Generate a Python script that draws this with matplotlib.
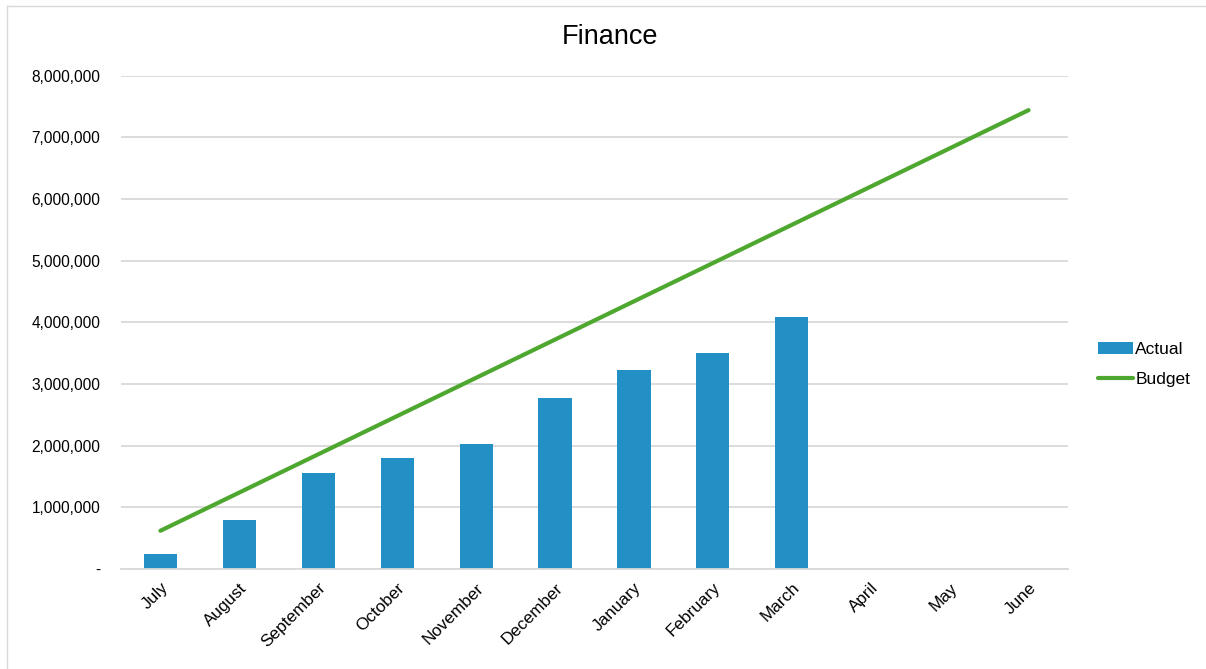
import numpy as np
import matplotlib.pyplot as plt
from matplotlib.lines import Line2D
from matplotlib.ticker import FuncFormatter

plt.rcParams['font.family'] = ['Liberation Sans', 'DejaVu Sans']

# Monthly figures for the financial year
months = ['July', 'August', 'September', 'October', 'November', 'December',
          'January', 'February', 'March', 'April', 'May', 'June']
actual = [250000, 790000, 1550000, 1800000, 2020000, 2770000,
          3220000, 3500000, 4080000]
budget = [620000, 1240000, 1860000, 2480000, 3100000, 3720000,
          4340000, 4960000, 5580000, 6200000, 6820000, 7440000]

fig = plt.figure(figsize=(12.06, 6.69), dpi=100)
ax = fig.add_axes([0.1003, 0.1495, 0.7853, 0.7375])

x = np.arange(len(months))
bars = ax.bar(x[:len(actual)], actual, width=0.42, color='#2290C4', label='Actual', zorder=2)
line, = ax.plot(x, budget, color='#4EA72E', linewidth=3, solid_capstyle='round',
                label='Budget', zorder=3)

ax.set_xlim(-0.5, len(months) - 0.5)
ax.set_ylim(0, 8000000)
ax.set_yticks(np.arange(0, 8000001, 1000000))
ax.yaxis.set_major_formatter(FuncFormatter(lambda v, p: '-' if v == 0 else f'{int(v):,}'))
ax.set_xticks(x)
ax.set_xticklabels(months, rotation=45, ha='right', rotation_mode='anchor')

ax.grid(axis='y', color='#D9D9D9', linewidth=1.3, zorder=0)
for s in ['top', 'right', 'left']:
    ax.spines[s].set_visible(False)
ax.spines['bottom'].set_color('#D9D9D9')
ax.spines['bottom'].set_linewidth(1.3)
ax.tick_params(axis='both', length=0, colors='#000000')
ax.tick_params(axis='y', pad=15, labelsize=11.2)
ax.tick_params(axis='x', pad=8, labelsize=12.3)

# chart title centred over the whole chart area
fig.text(610 / 1206, 1 - 37 / 669, 'Finance', fontsize=19.5, ha='center', va='center')

ax.legend([bars, line], ['Actual', 'Budget'], loc='center left',
          bbox_to_anchor=(1.015, 0.415), frameon=False, fontsize=12.5,
          handlelength=2.0, handletextpad=0.15, labelspacing=0.85)

# thin frame along the top and left edges of the chart area
fig.add_artist(Line2D([7 / 1206, 1], [1 - 6 / 669, 1 - 6 / 669],
                      transform=fig.transFigure, color='#D9D9D9', linewidth=1))
fig.add_artist(Line2D([7 / 1206, 7 / 1206], [0, 1 - 6 / 669],
                      transform=fig.transFigure, color='#D9D9D9', linewidth=1))

fig.savefig('out.png', dpi=100)
